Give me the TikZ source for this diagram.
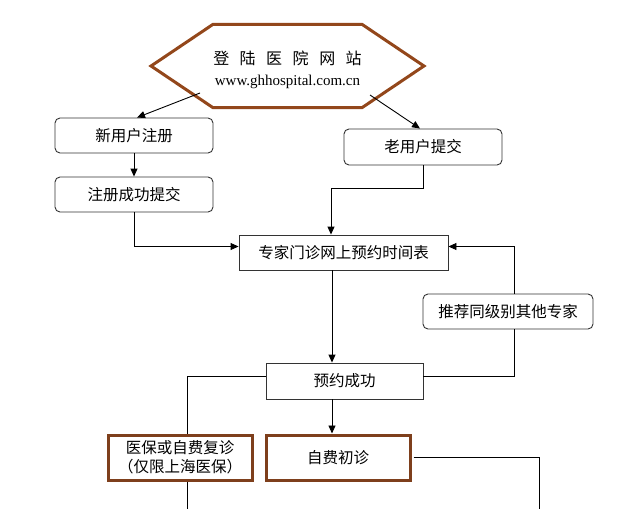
\documentclass[tikz,border=0pt]{standalone}
\usepackage{fontspec}
\newfontfamily\cjk{Noto Sans CJK SC}
\newfontfamily\urlfont{Liberation Serif}
\usetikzlibrary{arrows.meta,calc}
\definecolor{brownline}{HTML}{7E3F1C}
\definecolor{hexline}{HTML}{93471B}
\definecolor{grayline}{HTML}{333333}
\tikzset{
  box/.style={draw=grayline, line width=0.9pt, minimum width=#1, minimum height=35pt, inner sep=0pt, align=center, font=\cjk\fontsize{15.5}{17}\selectfont, fill=white},
  rbox/.style={box=#1, rounded corners=5pt},
  sbox/.style={box=#1},
  bbox/.style={box=#1, draw=brownline, line width=3pt, minimum height=45pt, font=\cjk\fontsize{15.5}{19}\selectfont},
  conn/.style={draw=black, line width=0.9pt},
  arr/.style={conn, -{Triangle[length=8pt,width=7pt]}},
}
\begin{document}
\begin{tikzpicture}[x=1pt,y=-1pt]
\useasboundingbox (0,0) rectangle (623,509);
\fill[white] (0,0) rectangle (623,509);
% hexagon
\node[minimum width=131pt, minimum height=83pt, inner sep=0pt, align=center] (site) at (287.5,66)
  {{\cjk\fontsize{16}{17}\selectfont\rule{0pt}{21pt}登\hspace{10.5pt}陆\hspace{10.5pt}医\hspace{10.5pt}院\hspace{10.5pt}网\hspace{10.5pt}站}\\[9pt]
   {\urlfont\fontsize{15}{17}\selectfont www.ghhospital.com.cn}};
\draw[hexline, line width=3pt, line join=miter]
  (site.north west) -- (site.north east) -- ($(site.east)+(62,0)$) -- (site.south east)
  -- (site.south west) -- ($(site.west)+(-62,0)$) -- cycle;
\coordinate (hexL) at (200,93);
\coordinate (hexR) at (370,95);
% boxes
\node[rbox=158pt] (new) at (134,135.5) {新用户注册};
\node[rbox=158pt] (reg) at (134,194.5) {注册成功提交};
\node[rbox=158pt, minimum height=36pt] (old) at (423,147) {老用户提交};
\node[sbox=209pt] (sched) at (343.5,252.5) {专家门诊网上预约时间表};
\node[rbox=170pt] (rec) at (508,311.5) {推荐同级别其他专家};
\node[sbox=157pt, minimum height=36pt] (yy) at (344.5,381) {预约成功};
\node[bbox=144pt] (fb) at (180,457.5) {医保或自费复诊\\（仅限上海医保）};
\node[bbox=144pt] (zc) at (338,457.5) {自费初诊};
\coordinate (endR) at (539,509);
\coordinate (endL) at (187,509);
% connectors
\draw[arr] (hexL) -- ([xshift=3pt]new.north);
\draw[arr] (hexR) -- ([xshift=-3pt]old.north);
\draw[arr] (new) -- (reg);
\draw[arr] (reg.south) |- ([yshift=6pt]sched.west);
\draw[arr] (old.south) |- (331,188) -- (331,0 |- sched.north);
\draw[arr] ([xshift=-11.5pt]sched.south) -- ([xshift=-12.5pt]yy.north);
\draw[conn] ([yshift=5pt]yy.east) -| ([xshift=6pt]rec.south);
\draw[arr] ([xshift=6pt]rec.north) |- ([yshift=6pt]sched.east);
\draw[conn] ([yshift=5pt]yy.west) -| ([xshift=7pt]fb.north);
\draw[arr] ([xshift=-12.5pt]yy.south) -- ([xshift=-6pt]zc.north);
\draw[conn] ([xshift=2pt]zc.east) -| (endR);
\draw[conn] ([xshift=7pt]fb.south) -- (endL);
\end{tikzpicture}
\end{document}
